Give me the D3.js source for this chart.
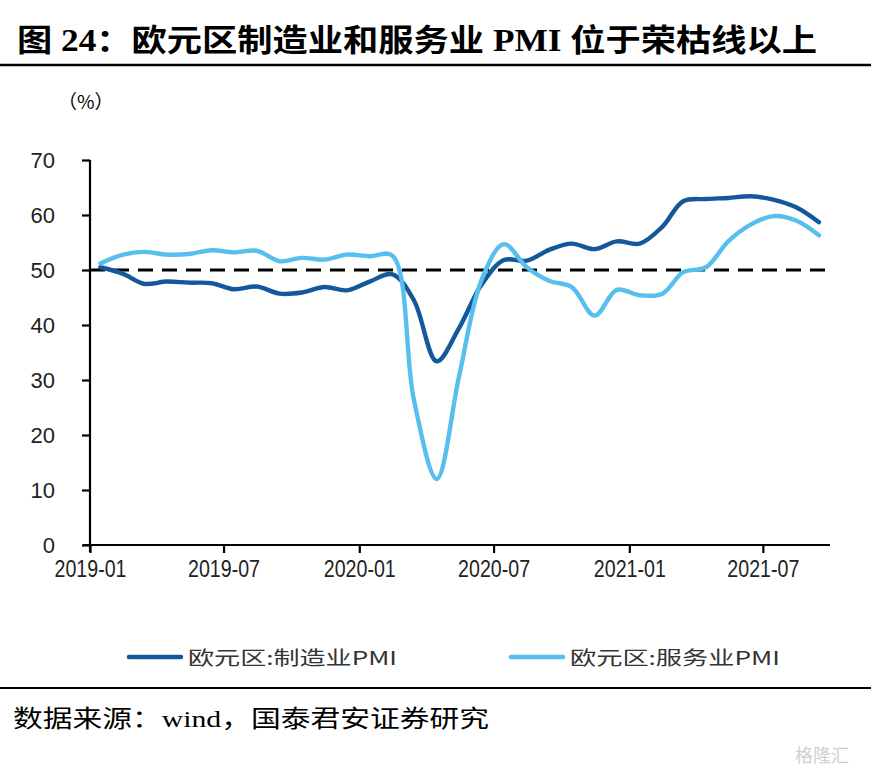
<!DOCTYPE html>
<html><head><meta charset="utf-8">
<script src="https://cdn.jsdelivr.net/npm/d3@7"></script>
<style>body{margin:0;background:#fff}svg{display:block}</style>
</head><body>
<script>
const months = ["2019-01","2019-02","2019-03","2019-04","2019-05","2019-06","2019-07","2019-08","2019-09","2019-10","2019-11","2019-12",
"2020-01","2020-02","2020-03","2020-04","2020-05","2020-06","2020-07","2020-08","2020-09","2020-10","2020-11","2020-12",
"2021-01","2021-02","2021-03","2021-04","2021-05","2021-06","2021-07","2021-08","2021-09"];
const manufacturing = [50.5,49.3,47.5,47.9,47.7,47.6,46.5,47.0,45.7,45.9,46.9,46.3,
47.9,49.2,44.5,33.4,39.4,47.4,51.8,51.7,53.7,54.8,53.8,55.2,
54.8,57.9,62.5,62.9,63.1,63.4,62.8,61.4,58.7];
const services = [51.2,52.8,53.3,52.8,52.9,53.6,53.2,53.5,51.6,52.2,51.9,52.8,
52.5,52.6,26.4,12.0,30.5,48.3,54.7,50.5,48.0,46.9,41.7,46.4,
45.4,45.7,49.6,50.5,55.2,58.3,59.8,59.0,56.3];
const yTicks = [0,10,20,30,40,50,60,70];
const xTickLabels = ["2019-01","2019-07","2020-01","2020-07","2021-01","2021-07"];
const seriesNames = ["欧元区:制造业PMI","欧元区:服务业PMI"];
const threshold = 50;

const W = 871, H = 772;
const svg = d3.select("body").append("svg").attr("width", W).attr("height", H);
const parseM = d3.timeParse("%Y-%m-%d");
const dates = months.map(m => parseM(m + "-15"));

const x = d3.scaleTime().domain([parseM("2019-01-01"), parseM("2021-09-30")]).range([90, 830]);
const y = d3.scaleLinear().domain([0, 70]).range([545, 160]);

// title
svg.append("text").attr("x", 17).attr("y", 51)
  .attr("font-family", "'Liberation Serif','Noto Sans CJK SC',serif").attr("font-weight", "bold")
  .attr("font-size", 31).attr("fill", "#000")
  .attr("textLength", 800).attr("lengthAdjust", "spacingAndGlyphs")
  .text("图 24：欧元区制造业和服务业 PMI 位于荣枯线以上");
svg.append("line").attr("x1", 0).attr("x2", W).attr("y1", 65).attr("y2", 65).attr("stroke", "#000").attr("stroke-width", 2.5);

svg.append("text").attr("x", 58).attr("y", 109)
  .attr("font-family", "'Noto Sans CJK SC','Liberation Serif',serif").attr("font-size", 19)
  .attr("fill", "#000").text("（%）");

// axes
const yAxis = d3.axisLeft(y).tickValues(yTicks).tickSize(8).tickPadding(27);
const gy = svg.append("g").attr("transform", "translate(90,0)").call(yAxis);
gy.select(".domain").attr("stroke", "#000").attr("stroke-width", 2.2).attr("d", "M0,160V552");
gy.selectAll(".tick line").attr("stroke", "#000").attr("stroke-width", 2.2);
gy.selectAll(".tick text").attr("font-family", "'Liberation Sans',Arial,sans-serif").attr("font-size", 22).attr("fill", "#222");

const xTickDates = xTickLabels.map(s => parseM(s + "-01"));
const xAxis = d3.axisBottom(x).tickValues(xTickDates).tickFormat((d, i) => xTickLabels[i]).tickSize(8).tickPadding(8);
const gx = svg.append("g").attr("transform", "translate(0,545)").call(xAxis);
gx.select(".domain").attr("stroke", "#000").attr("stroke-width", 2.2).attr("d", "M83,0H830");
gx.selectAll(".tick line").attr("stroke", "#000").attr("stroke-width", 2.2);
gx.selectAll(".tick text").attr("font-family", "'Liberation Sans Narrow','Liberation Sans',Arial,sans-serif")
  .attr("font-size", 23).attr("fill", "#222").attr("textLength", 72).attr("lengthAdjust", "spacingAndGlyphs");

// threshold line
svg.append("line").attr("x1", 90).attr("x2", 830).attr("y1", y(threshold)).attr("y2", y(threshold))
  .attr("stroke", "#000").attr("stroke-width", 3.2).attr("stroke-dasharray", "15,9");

const colors = ["#12589b", "#56bfed"];
const line = d3.line().x((d, i) => x(dates[i])).y(d => y(d)).curve(d3.curveCatmullRom.alpha(0.5));
[manufacturing, services].forEach((s, k) => {
  svg.append("path").datum(s).attr("d", line).attr("fill", "none")
    .attr("stroke", colors[k]).attr("stroke-width", 4.4).attr("stroke-linecap", "round").attr("stroke-linejoin", "round");
});

// legend
const legendX = [129, 511], legendTextX = [188, 570], legendW = [209, 210];
seriesNames.forEach((n, k) => {
  svg.append("line").attr("x1", legendX[k]).attr("x2", legendX[k] + 52).attr("y1", 657).attr("y2", 657)
    .attr("stroke", colors[k]).attr("stroke-width", 4.5).attr("stroke-linecap", "round");
  svg.append("text").attr("x", legendTextX[k]).attr("y", 665)
    .attr("font-family", "'Noto Sans CJK SC','Liberation Sans',sans-serif").attr("font-size", 19).attr("fill", "#333")
    .attr("textLength", legendW[k]).attr("lengthAdjust", "spacingAndGlyphs").text(n);
});

svg.append("line").attr("x1", 0).attr("x2", W).attr("y1", 688).attr("y2", 688).attr("stroke", "#000").attr("stroke-width", 2.2);
svg.append("text").attr("x", 13).attr("y", 727)
  .attr("font-family", "'Liberation Serif','Noto Sans CJK SC',serif").attr("font-size", 24).attr("fill", "#000")
  .attr("textLength", 476).attr("lengthAdjust", "spacingAndGlyphs")
  .text("数据来源：wind，国泰君安证券研究");

svg.append("text").attr("x", 795).attr("y", 762)
  .attr("font-family", "'Noto Sans CJK SC',sans-serif").attr("font-size", 18).attr("fill", "#d0d0d0")
  .text("格隆汇");
</script>
</body></html>
